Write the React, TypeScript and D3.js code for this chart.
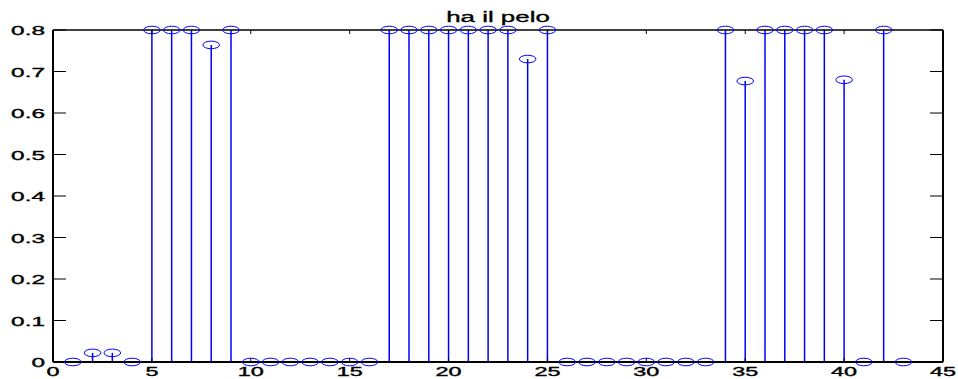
import React from "react";
import * as d3 from "d3";

// Stem plot data: sample index and value
const indices = d3.range(1, 44);
const values = [
  0, 0.022, 0.022, 0, 0.8, 0.8, 0.8, 0.764, 0.8, 0,
  0, 0, 0, 0, 0, 0, 0.8, 0.8, 0.8, 0.8,
  0.8, 0.8, 0.8, 0.73, 0.8, 0, 0, 0, 0, 0,
  0, 0, 0, 0.8, 0.677, 0.8, 0.8, 0.8, 0.8, 0.68,
  0, 0.8, 0,
];
const xTicks = [0, 5, 10, 15, 20, 25, 30, 35, 40, 45];
const yTicks = [0, 0.1, 0.2, 0.3, 0.4, 0.5, 0.6, 0.7, 0.8];
const title = "ha il pelo";

const W = 958;
const H = 379;
const left = 53;
const right = 943;
const top = 30;
const bottom = 362;

const BLUE = "#0000ff";
const FONT = "'Liberation Sans', Arial, Helvetica, sans-serif";
const STRETCH = 1.95;

export default function App() {
  const x = d3.scaleLinear().domain([0, 45]).range([left, right]);
  const y = d3.scaleLinear().domain([0, 0.8]).range([bottom, top]);
  const fmt = (v: number) => (v === 0 ? "0" : d3.format(".1f")(v));

  const textProps = {
    fontFamily: FONT,
    fontSize: 12.5,
    fill: "#000",
    stroke: "#000",
    strokeWidth: 0.35,
  };

  return (
    <svg
      width={W}
      height={H}
      style={{ position: "absolute", left: 0, top: 0, background: "#fff" }}
    >
      <rect x={0} y={0} width={W} height={H} fill="#fff" />

      {/* stems */}
      {indices.map((k, i) => (
        <line
          key={`s${k}`}
          x1={x(k)}
          x2={x(k)}
          y1={y(0)}
          y2={y(values[i])}
          stroke={BLUE}
          strokeWidth={1.5}
        />
      ))}

      {/* axes box */}
      <line x1={left} x2={right} y1={top} y2={top} stroke="#000" strokeWidth={1.3} />
      <line x1={left} x2={right} y1={bottom} y2={bottom} stroke="#000" strokeWidth={2} />
      <line x1={left} x2={left} y1={top} y2={bottom} stroke="#000" strokeWidth={2} />
      <line x1={right} x2={right} y1={top} y2={bottom} stroke="#000" strokeWidth={2} />

      {/* y ticks, inward on both sides */}
      {yTicks.map((t) => (
        <g key={`yt${t}`}>
          <line x1={left} x2={left + 13} y1={y(t)} y2={y(t)} stroke="#000" strokeWidth={1} />
          <line x1={right - 13} x2={right} y1={y(t)} y2={y(t)} stroke="#000" strokeWidth={1} />
          <text
            transform={`translate(${left - 8},${y(t) + 5}) scale(${STRETCH},1)`}
            textAnchor="end"
            {...textProps}
          >
            {fmt(t)}
          </text>
        </g>
      ))}

      {/* x ticks, inward on bottom and top */}
      {xTicks.map((t) => (
        <g key={`xt${t}`}>
          <line x1={x(t)} x2={x(t)} y1={bottom} y2={bottom - 4} stroke="#000" strokeWidth={1} />
          <line x1={x(t)} x2={x(t)} y1={top} y2={top + 4} stroke="#000" strokeWidth={1} />
          <text
            transform={`translate(${x(t)},${bottom + 14}) scale(${STRETCH},1)`}
            textAnchor="middle"
            {...textProps}
            fontSize={12}
          >
            {t}
          </text>
        </g>
      ))}

      {/* markers */}
      {indices.map((k, i) => (
        <ellipse
          key={`m${k}`}
          cx={x(k)}
          cy={y(values[i])}
          rx={8.3}
          ry={3.8}
          fill="none"
          stroke={BLUE}
          strokeWidth={1}
        />
      ))}

      <text
        transform={`translate(${(left + right) / 2},${22}) scale(1.85,1)`}
        textAnchor="middle"
        fontFamily={FONT}
        fontSize={14}
        fill="#000"
        stroke="#000"
        strokeWidth={0.3}
      >
        {title}
      </text>
    </svg>
  );
}
